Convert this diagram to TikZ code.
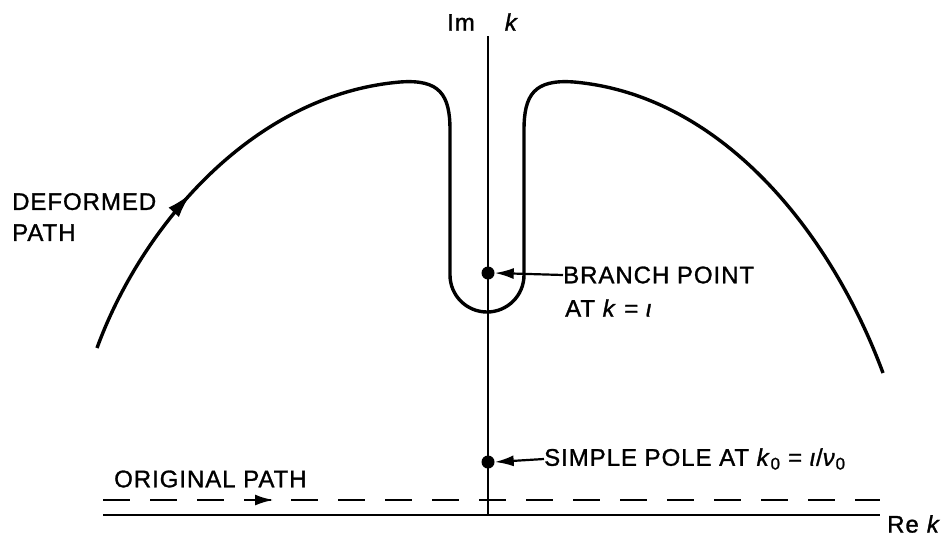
\documentclass[tikz,border=0pt]{standalone}
\usepackage{fontspec}
\setmainfont{Liberation Sans}[LetterSpace=4, FakeBold=1.2]
\usetikzlibrary{arrows.meta,decorations.markings}
\tikzset{
  lbl/.style={inner sep=0pt, anchor=west, font=\fontsize{24}{31}\selectfont},
  axis/.style={line width=2.8pt},
  contour/.style={line width=3.4pt},
  dot/.style={circle, fill, inner sep=0pt, minimum size=13pt},
  pointer/.style={line width=2.2pt, -{Latex[length=19pt,width=11pt]}}
}
\begin{document}
\begin{tikzpicture}[x=1pt, y=-1pt]
\useasboundingbox (0,0) rectangle (947,538);
% axes
\draw[axis] (488,36) -- (488,515);
\draw[axis] (103,515) -- (880,515);
\node[lbl] (imk) at (447,22) {Im\hspace{30pt}\textit{k}};
\node[lbl] (rek) at (887,524) {Re\hspace{8pt}\textit{k}};
% original path
\draw[line width=2.8pt, dash pattern=on 27pt off 20pt] (103,500) -- (880,500);
\coordinate (op1) at (244,500);
\coordinate (op2) at (274,500);
\draw[line width=2.8pt, -{Latex[length=19pt,width=11pt]}] (op1) -- (op2);
\node[lbl] (oplbl) at (114,479) {ORIGINAL PATH};
% deformed path
\draw[contour, decoration={markings, mark=at position 0.43 with {\arrow{Latex[length=26pt,width=14pt]}}}, postaction=decorate]
  (97,348) .. controls (140,230) and (250,95) .. (400,82);
\draw[contour] (400,82) .. controls (440,79) and (450,95) .. (450,130) -- (450,275)
  arc[start angle=180, end angle=0, radius=37] -- (524,130)
  .. controls (524,95) and (534,79) .. (574,82)
  .. controls (720,95) and (830,230) .. (883,373);
\node[lbl, align=left] (dplbl) at (12,217) {DEFORMED\\PATH};
% singular points
\node[dot] (bp) at (488,273) {};
\node[dot] (sp) at (488,462) {};
\node[lbl] (bplbl) at (563,275) {BRANCH POINT};
\node[lbl] (bplbl2) at (565,308) {AT \textit{k} = \textit{ι}};
\node[lbl] (splbl) at (544,459) {SIMPLE POLE AT \textit{k}\textsubscript{0} = \textit{ι}/\textit{ν}\textsubscript{0}};
\draw[pointer] (bplbl.west) -- (bp.east);
\draw[pointer] (splbl.west) -- (sp.east);
\end{tikzpicture}
\end{document}
